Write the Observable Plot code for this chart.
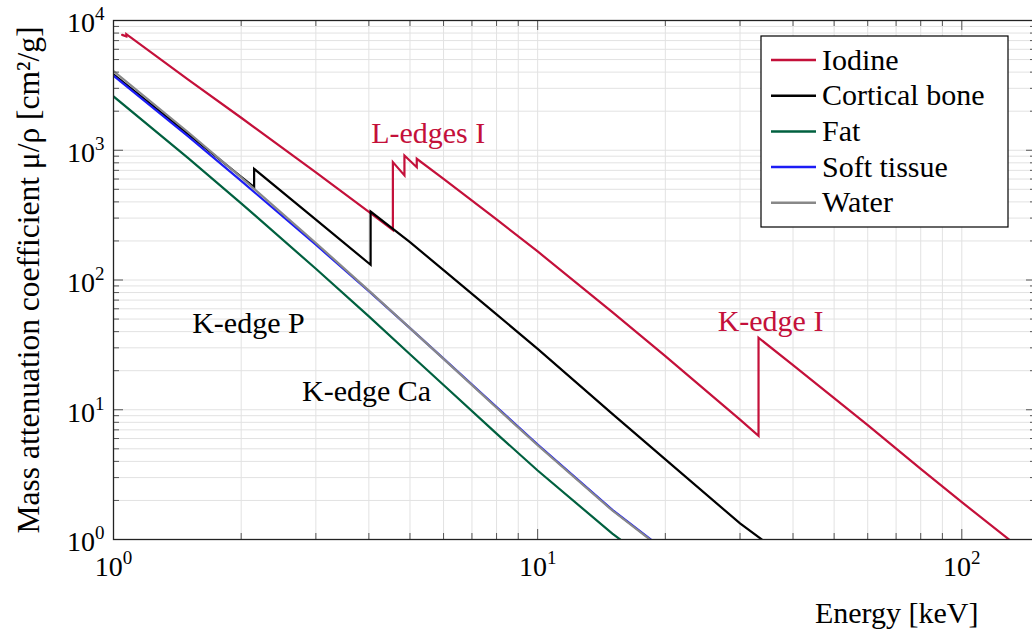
<!DOCTYPE html>
<html><head><meta charset="utf-8">
<script src="https://cdn.jsdelivr.net/npm/d3@7"></script>
<script src="https://cdn.jsdelivr.net/npm/@observablehq/plot@0.6"></script>
<style>html,body{margin:0;padding:0;background:#fff;overflow:hidden}</style>
</head><body><div id="chart"></div>
<script>
// ---- data (energy in keV, mass attenuation coefficient in cm^2/g) ----
const iodineE  = [1.048, 1.072, 1.072, 1.5, 2, 3, 4, 4.557, 4.557, 4.852, 4.852, 5.188, 5.188, 6, 8, 10, 15, 20, 30, 33.17, 33.17, 40, 50, 60, 80, 100, 150];
const iodineMu = [7750, 7550, 7850, 3500, 1780, 675, 335, 243, 810, 640, 910, 740, 860, 602, 293, 166, 56.6, 25.9, 8.39, 6.3, 35.9, 22.1, 12.3, 7.6, 3.5, 1.94, 0.68];

const boneE  = [1, 1.5, 2, 2.1455, 2.1455, 3, 4.038, 4.038, 5, 6, 8, 10, 15, 20, 30, 40];
const boneMu = [3850, 1330, 625, 519, 719, 292, 131, 337, 196, 119, 54.3, 29.5, 9.3, 4.15, 1.33, 0.665];

const fatE  = [1, 1.5, 2, 3, 4, 5, 6, 8, 10, 15, 20];
const fatMu = [2600, 870, 390, 122, 52.5, 26.8, 15.5, 6.55, 3.4, 1.11, 0.55];

const softE  = [1, 1.5, 2, 3, 4, 5, 6, 8, 10, 15, 20];
const softMu = [3760, 1280, 580, 187, 82, 42.6, 24.8, 10.5, 5.4, 1.69, 0.82];

const waterE  = [1, 1.5, 2, 3, 4, 5, 6, 8, 10, 15, 20];
const waterMu = [4078, 1376, 617.3, 192.9, 82.78, 42.58, 24.64, 10.37, 5.329, 1.673, 0.8096];

const seriesNames  = ["Iodine", "Cortical bone", "Fat", "Soft tissue", "Water"];
const seriesColors = ["#c4103a", "#000000", "#00603f", "#1c1cf5", "#888888"];

const xTickValues = [1, 10, 100];
const xTickLabels = ["10^0", "10^1", "10^2"];
const yTickValues = [1, 10, 100, 1000, 10000];
const yTickLabels = ["10^0", "10^1", "10^2", "10^3", "10^4"];

const annText  = ["L-edges I", "K-edge I", "K-edge P", "K-edge Ca"];
const annE     = [5.52, 35.4, 2.08, 3.95];
const annMu    = [1351, 47.7, 46.6, 13.8];
const annColor = ["#c4103a", "#c4103a", "#000000", "#000000"];

const xLabel = "Energy [keV]";
const yLabel = "Mass attenuation coefficient μ/ρ [cm²/g]";

// ---- layout ----
const W = 1032, H = 633, mL = 113, mR = -4, mT = 20, mB = 94;
const plotW = W - mL - mR, plotH = H - mT - mB;
const FONT = "'Liberation Serif', 'Times New Roman', serif";

const pairs = (E, M) => E.map((e, i) => ({e, mu: M[i]}));
const seriesData = [pairs(iodineE, iodineMu), pairs(boneE, boneMu), pairs(fatE, fatMu), pairs(softE, softMu), pairs(waterE, waterMu)];

// grid / minor tick positions (decade subdivisions)
const xGrid = [], yGrid = [];
for (let k = 0; k <= 2; k++) for (let m = 1; m <= 9; m++) { const v = m * 10 ** k; if (v <= 150) xGrid.push(v); }
for (let k = 0; k <= 3; k++) for (let m = 1; m <= 9; m++) yGrid.push(m * 10 ** k);
yGrid.push(10000);
const xMinor = xGrid.filter(v => !xTickValues.includes(v));
const yMinor = yGrid.filter(v => !yTickValues.includes(v));

const MINOR = 6, MAJOR = 10, tickColor = "#555";

const marks = [
  Plot.ruleX(xGrid, {x: d => d, stroke: "#e2e2e2", strokeWidth: 1}),
  Plot.ruleY(yGrid, {y: d => d, stroke: "#e2e2e2", strokeWidth: 1}),
];
seriesData.forEach((data, i) => {
  marks.push(Plot.line(data, {x: "e", y: "mu", stroke: seriesColors[i], strokeWidth: 2.2, strokeLinejoin: "miter", strokeMiterlimit: 4, clip: true}));
});
// inward ticks on all four sides
for (const [vals, len] of [[xMinor, MINOR], [xTickValues, MAJOR]]) {
  marks.push(Plot.ruleX(vals, {x: d => d, insetTop: plotH - len, stroke: tickColor}));
  marks.push(Plot.ruleX(vals, {x: d => d, insetBottom: plotH - len, stroke: tickColor}));
}
for (const [vals, len] of [[yMinor, MINOR], [yTickValues, MAJOR]]) {
  marks.push(Plot.ruleY(vals, {y: d => d, insetRight: plotW - len, stroke: tickColor}));
  marks.push(Plot.ruleY(vals, {y: d => d, insetLeft: plotW - len, stroke: tickColor}));
}
marks.push(Plot.frame({stroke: "#222", strokeWidth: 1.3}));
// tick labels
marks.push(Plot.text(xTickValues, {x: d => d, frameAnchor: "bottom", text: (d, i) => xTickLabels[i], textAnchor: "middle", lineAnchor: "top", dy: 17, fontSize: 28, fill: "black"}));
marks.push(Plot.text(yTickValues, {y: d => d, frameAnchor: "left", text: (d, i) => yTickLabels[i], textAnchor: "end", lineAnchor: "middle", dx: -9, dy: 3, fontSize: 28, fill: "black"}));
// annotations
marks.push(Plot.text(annText, {x: (d, i) => annE[i], y: (d, i) => annMu[i], text: d => d, fill: (d, i) => annColor[i], textAnchor: "middle", lineAnchor: "middle", fontSize: 30}));
// axis labels
marks.push(Plot.text([xLabel], {frameAnchor: "bottom-right", text: d => d, textAnchor: "end", lineAnchor: "bottom", dx: -58, dy: 83, fontSize: 30, fill: "black"}));
marks.push(Plot.text([yLabel], {frameAnchor: "left", text: d => d, rotate: -90, textAnchor: "middle", lineAnchor: "bottom", dx: -75, fontSize: 31.5, fill: "black"}));

const chart = Plot.plot({
  width: W, height: H,
  marginLeft: mL, marginRight: mR, marginTop: mT, marginBottom: mB,
  x: {type: "log", domain: [1, 150], axis: null},
  y: {type: "log", domain: [1, 10000], axis: null},
  style: {fontFamily: FONT, background: "white", color: "black", overflow: "hidden"},
  marks
});

// superscripts for tick labels
const NS = "http://www.w3.org/2000/svg";
chart.querySelectorAll("text").forEach(t => {
  const m = t.textContent.match(/^10\^(\d+)$/);
  if (m) {
    t.textContent = "10";
    const ts = document.createElementNS(NS, "tspan");
    ts.setAttribute("dy", "-12");
    ts.setAttribute("font-size", "19");
    ts.textContent = m[1];
    t.appendChild(ts);
  }
});

// legend
const svg = d3.select(chart);
const lg = svg.append("g").attr("font-family", FONT).attr("font-size", 30).attr("text-anchor", "start");
lg.append("rect").attr("x", 761).attr("y", 36).attr("width", 247).attr("height", 191)
  .attr("fill", "white").attr("stroke", "black").attr("stroke-width", 1.2);
seriesNames.forEach((name, i) => {
  const yy = 60 + i * 35.7;
  lg.append("line").attr("x1", 771).attr("x2", 816).attr("y1", yy).attr("y2", yy)
    .attr("stroke", seriesColors[i]).attr("stroke-width", 2.5);
  lg.append("text").attr("x", 822).attr("y", yy + 9.5).attr("text-anchor", "start").attr("fill", "black").text(name);
});

document.getElementById("chart").appendChild(chart);
</script>
</body></html>
